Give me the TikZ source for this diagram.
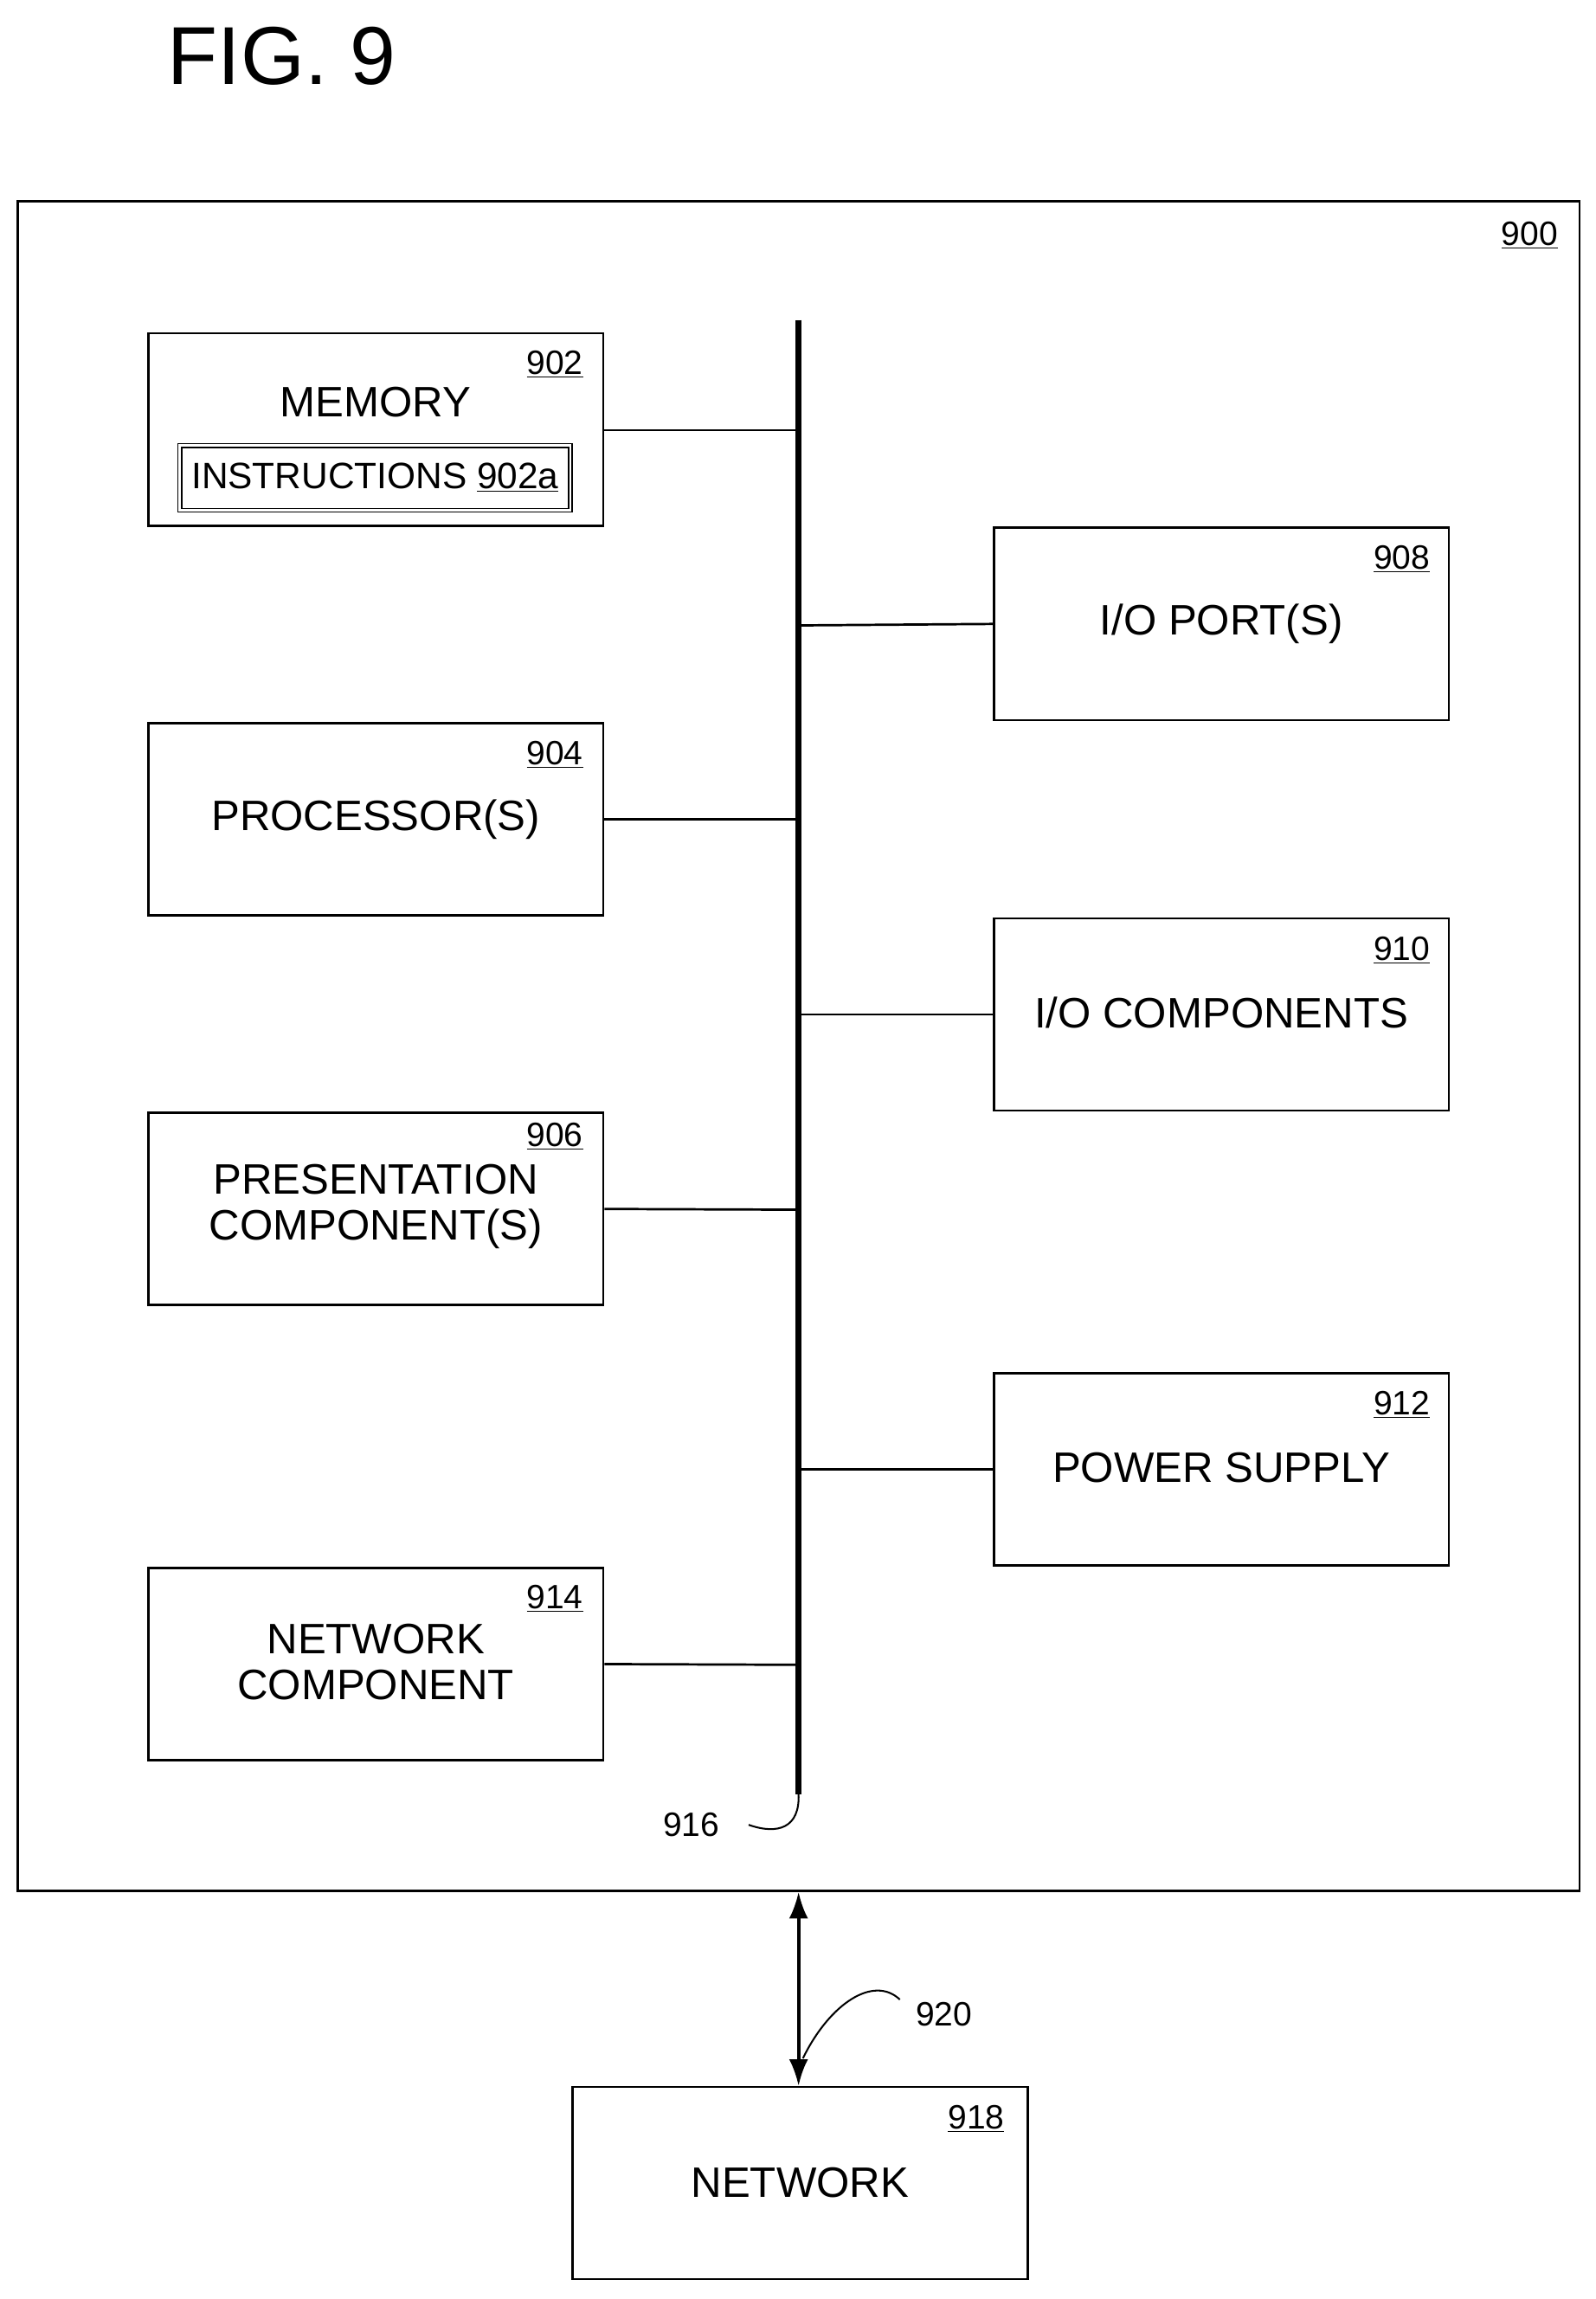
\documentclass[tikz,border=0pt]{standalone}
\usepackage{fontspec}
\usetikzlibrary{arrows.meta}
\setmainfont{Liberation Sans}
\begin{document}
\begin{tikzpicture}[x=1pt,y=-1pt,line width=1.6pt,
  box/.style={draw,minimum width=310pt,minimum height=131pt,inner sep=0pt,font=\fontsize{29}{33}\selectfont,align=center},
  txt/.style={font=\fontsize{29}{33}\selectfont,align=center,inner sep=0pt},
  ref/.style={font=\fontsize{23}{26}\selectfont,inner sep=0pt},
  lbl/.style={font=\fontsize{23}{26}\selectfont,inner sep=0pt}]
\useasboundingbox (0,0) rectangle (1087,1566);
\node[font=\fontsize{56}{60}\selectfont] (fig) at (192,38) {FIG. 9};
\node[draw,minimum width=1064pt,minimum height=1151pt,inner sep=0pt] (outer) at (544,712.5) {};
\node[ref] (r900) at (1042,160) {\underline{900}};
% bus
\coordinate (bt) at (544,218);
\coordinate (bb) at (544,1222);
\draw[line width=4pt] (bt) -- (bb);
% left boxes
\node[box] (mem) at (256,292.5) {};
\node[txt] at (256,274) {MEMORY};
\node[draw,double,double distance=1.5pt,line width=0.9pt,minimum width=266pt,minimum height=44pt,inner sep=0pt,font=\fontsize{25}{28}\selectfont] (ins) at (255.5,325.5) {INSTRUCTIONS \underline{902a}};
\node[ref] at (378,248) {\underline{902}};
\node[box] (proc) at (256,558) {PROCESSOR(S)};
\node[ref] at (378,514) {\underline{904}};
\node[box] (pres) at (256,823.5) {};
\node[txt] at (256,822) {PRESENTATION\\[-2pt]COMPONENT(S)};
\node[ref] at (378,774) {\underline{906}};
\node[box] (net) at (256,1133.5) {};
\node[txt] at (256,1132) {NETWORK\\[-2pt]COMPONENT};
\node[ref] at (378,1089) {\underline{914}};
% right boxes
\node[box] (iop) at (832,425) {I/O PORT(S)};
\node[ref] at (955,381) {\underline{908}};
\node[box] (ioc) at (832,691) {};
\node[txt] at (832,690) {I/O COMPONENTS};
\node[ref] at (955,647) {\underline{910}};
\node[box] (ps) at (832,1001) {};
\node[txt] at (832,1000) {POWER SUPPLY};
\node[ref] at (955,957) {\underline{912}};
% connections
\draw (mem.east |- 0,293) -- (544,293);
\draw (proc.east) -- (544,558);
\draw (pres.east) -- (544,824);
\draw (net.east) -- (544,1134);
\draw (iop.west) -- (544,426);
\draw (ioc.west) -- (544,691);
\draw (ps.west) -- (544,1001);
% 916
\node[lbl] (l916) at (471,1243) {916};
\draw[line width=1.2pt] (510,1243) .. controls (530,1250) and (545,1245) .. (bb);
% network
\node[box] (nw) at (545,1487) {NETWORK};
\node[ref] at (665,1443) {\underline{918}};
\draw[line width=2.2pt,{Latex[length=18pt,width=13pt]}-{Latex[length=18pt,width=13pt]}] (outer.south -| 544,0) -- (nw.north -| 544,0);
\node[lbl] (l920) at (643,1372) {920};
\draw[line width=1.2pt] (547,1402) .. controls (565,1365) and (595,1345) .. (613,1362);
\end{tikzpicture}
\end{document}
